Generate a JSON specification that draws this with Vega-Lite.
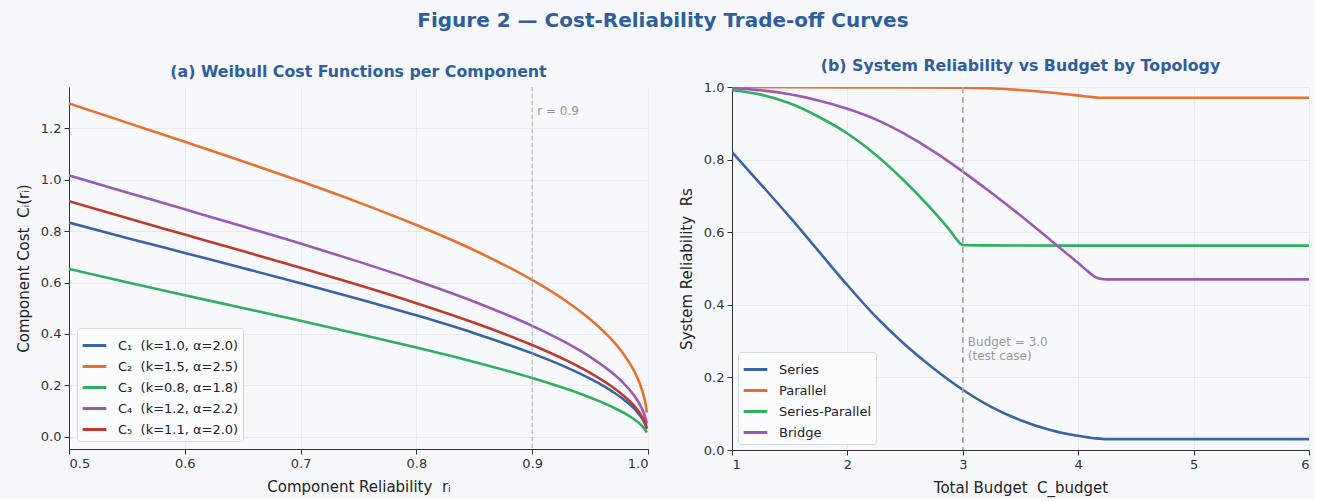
{
  "$schema": "https://vega.github.io/schema/vega-lite/v6.json",
  "background": "#f6f7fb",
  "padding": {"left": 16, "top": 11, "right": 4, "bottom": 4},
  "title": {"text": "Figure 2 — Cost-Reliability Trade-off Curves", "fontSize": 20, "fontWeight": "bold", "color": "#2e5e9e", "font": "DejaVu Sans", "anchor": "middle", "offset": 27},
  "config": {
    "font": "DejaVu Sans",
    "view": {"stroke": null, "fill": "#f7f8fc"},
    "axis": {"labelFontSize": 13, "labelColor": "#333", "titleFontSize": 15, "titleFontWeight": "normal", "titleColor": "#222", "titlePadding": 9, "gridColor": "#e4e6eb", "gridWidth": 0.8, "domainColor": "#333", "tickColor": "#333", "tickSize": 5, "labelPadding": 3},
    "title": {"fontSize": 15.8, "fontWeight": "bold", "color": "#2e5e9e", "offset": 6},
    "legend": {"symbolType": "stroke", "symbolStrokeWidth": 3, "symbolSize": 560, "labelFontSize": 13, "labelColor": "#222", "fillColor": "#fbfcfe", "strokeColor": "#d5d8dd", "padding": 4, "cornerRadius": 3, "rowPadding": 0, "labelOffset": 10, "title": null}
  },
  "datasets": {
    "cost": [
      {"r": 0.5, "cost": 0.8326, "comp": "C₁ \u00a0(k=1.0, α=2.0)"},
      {"r": 0.55, "cost": 0.7732, "comp": "C₁ \u00a0(k=1.0, α=2.0)"},
      {"r": 0.6, "cost": 0.7147, "comp": "C₁ \u00a0(k=1.0, α=2.0)"},
      {"r": 0.65, "cost": 0.6563, "comp": "C₁ \u00a0(k=1.0, α=2.0)"},
      {"r": 0.7, "cost": 0.5972, "comp": "C₁ \u00a0(k=1.0, α=2.0)"},
      {"r": 0.75, "cost": 0.5364, "comp": "C₁ \u00a0(k=1.0, α=2.0)"},
      {"r": 0.8, "cost": 0.4724, "comp": "C₁ \u00a0(k=1.0, α=2.0)"},
      {"r": 0.85, "cost": 0.4031, "comp": "C₁ \u00a0(k=1.0, α=2.0)"},
      {"r": 0.9, "cost": 0.3246, "comp": "C₁ \u00a0(k=1.0, α=2.0)"},
      {"r": 0.93, "cost": 0.2694, "comp": "C₁ \u00a0(k=1.0, α=2.0)"},
      {"r": 0.95, "cost": 0.2265, "comp": "C₁ \u00a0(k=1.0, α=2.0)"},
      {"r": 0.97, "cost": 0.1745, "comp": "C₁ \u00a0(k=1.0, α=2.0)"},
      {"r": 0.98, "cost": 0.1421, "comp": "C₁ \u00a0(k=1.0, α=2.0)"},
      {"r": 0.99, "cost": 0.1003, "comp": "C₁ \u00a0(k=1.0, α=2.0)"},
      {"r": 0.995, "cost": 0.0708, "comp": "C₁ \u00a0(k=1.0, α=2.0)"},
      {"r": 0.998, "cost": 0.0447, "comp": "C₁ \u00a0(k=1.0, α=2.0)"},
      {"r": 0.999, "cost": 0.0316, "comp": "C₁ \u00a0(k=1.0, α=2.0)"},
      {"r": 0.5, "cost": 1.2955, "comp": "C₂ \u00a0(k=1.5, α=2.5)"},
      {"r": 0.55, "cost": 1.221, "comp": "C₂ \u00a0(k=1.5, α=2.5)"},
      {"r": 0.6, "cost": 1.1466, "comp": "C₂ \u00a0(k=1.5, α=2.5)"},
      {"r": 0.65, "cost": 1.071, "comp": "C₂ \u00a0(k=1.5, α=2.5)"},
      {"r": 0.7, "cost": 0.9931, "comp": "C₂ \u00a0(k=1.5, α=2.5)"},
      {"r": 0.75, "cost": 0.9113, "comp": "C₂ \u00a0(k=1.5, α=2.5)"},
      {"r": 0.8, "cost": 0.8232, "comp": "C₂ \u00a0(k=1.5, α=2.5)"},
      {"r": 0.85, "cost": 0.7252, "comp": "C₂ \u00a0(k=1.5, α=2.5)"},
      {"r": 0.9, "cost": 0.6098, "comp": "C₂ \u00a0(k=1.5, α=2.5)"},
      {"r": 0.93, "cost": 0.5253, "comp": "C₂ \u00a0(k=1.5, α=2.5)"},
      {"r": 0.95, "cost": 0.4572, "comp": "C₂ \u00a0(k=1.5, α=2.5)"},
      {"r": 0.97, "cost": 0.3712, "comp": "C₂ \u00a0(k=1.5, α=2.5)"},
      {"r": 0.98, "cost": 0.3149, "comp": "C₂ \u00a0(k=1.5, α=2.5)"},
      {"r": 0.99, "cost": 0.2382, "comp": "C₂ \u00a0(k=1.5, α=2.5)"},
      {"r": 0.995, "cost": 0.1804, "comp": "C₂ \u00a0(k=1.5, α=2.5)"},
      {"r": 0.998, "cost": 0.1249, "comp": "C₂ \u00a0(k=1.5, α=2.5)"},
      {"r": 0.999, "cost": 0.0947, "comp": "C₂ \u00a0(k=1.5, α=2.5)"},
      {"r": 0.5, "cost": 0.6526, "comp": "C₃ \u00a0(k=0.8, α=1.8)"},
      {"r": 0.55, "cost": 0.6011, "comp": "C₃ \u00a0(k=0.8, α=1.8)"},
      {"r": 0.6, "cost": 0.5508, "comp": "C₃ \u00a0(k=0.8, α=1.8)"},
      {"r": 0.65, "cost": 0.5011, "comp": "C₃ \u00a0(k=0.8, α=1.8)"},
      {"r": 0.7, "cost": 0.4512, "comp": "C₃ \u00a0(k=0.8, α=1.8)"},
      {"r": 0.75, "cost": 0.4004, "comp": "C₃ \u00a0(k=0.8, α=1.8)"},
      {"r": 0.8, "cost": 0.3477, "comp": "C₃ \u00a0(k=0.8, α=1.8)"},
      {"r": 0.85, "cost": 0.2915, "comp": "C₃ \u00a0(k=0.8, α=1.8)"},
      {"r": 0.9, "cost": 0.2292, "comp": "C₃ \u00a0(k=0.8, α=1.8)"},
      {"r": 0.93, "cost": 0.1863, "comp": "C₃ \u00a0(k=0.8, α=1.8)"},
      {"r": 0.95, "cost": 0.1536, "comp": "C₃ \u00a0(k=0.8, α=1.8)"},
      {"r": 0.97, "cost": 0.115, "comp": "C₃ \u00a0(k=0.8, α=1.8)"},
      {"r": 0.98, "cost": 0.0916, "comp": "C₃ \u00a0(k=0.8, α=1.8)"},
      {"r": 0.99, "cost": 0.0621, "comp": "C₃ \u00a0(k=0.8, α=1.8)"},
      {"r": 0.995, "cost": 0.0422, "comp": "C₃ \u00a0(k=0.8, α=1.8)"},
      {"r": 0.998, "cost": 0.0253, "comp": "C₃ \u00a0(k=0.8, α=1.8)"},
      {"r": 0.999, "cost": 0.0172, "comp": "C₃ \u00a0(k=0.8, α=1.8)"},
      {"r": 0.5, "cost": 1.0158, "comp": "C₄ \u00a0(k=1.2, α=2.2)"},
      {"r": 0.55, "cost": 0.9498, "comp": "C₄ \u00a0(k=1.2, α=2.2)"},
      {"r": 0.6, "cost": 0.8842, "comp": "C₄ \u00a0(k=1.2, α=2.2)"},
      {"r": 0.65, "cost": 0.8183, "comp": "C₄ \u00a0(k=1.2, α=2.2)"},
      {"r": 0.7, "cost": 0.7511, "comp": "C₄ \u00a0(k=1.2, α=2.2)"},
      {"r": 0.75, "cost": 0.6811, "comp": "C₄ \u00a0(k=1.2, α=2.2)"},
      {"r": 0.8, "cost": 0.6068, "comp": "C₄ \u00a0(k=1.2, α=2.2)"},
      {"r": 0.85, "cost": 0.5254, "comp": "C₄ \u00a0(k=1.2, α=2.2)"},
      {"r": 0.9, "cost": 0.4315, "comp": "C₄ \u00a0(k=1.2, α=2.2)"},
      {"r": 0.93, "cost": 0.3642, "comp": "C₄ \u00a0(k=1.2, α=2.2)"},
      {"r": 0.95, "cost": 0.3111, "comp": "C₄ \u00a0(k=1.2, α=2.2)"},
      {"r": 0.97, "cost": 0.2454, "comp": "C₄ \u00a0(k=1.2, α=2.2)"},
      {"r": 0.98, "cost": 0.2037, "comp": "C₄ \u00a0(k=1.2, α=2.2)"},
      {"r": 0.99, "cost": 0.1483, "comp": "C₄ \u00a0(k=1.2, α=2.2)"},
      {"r": 0.995, "cost": 0.1081, "comp": "C₄ \u00a0(k=1.2, α=2.2)"},
      {"r": 0.998, "cost": 0.0712, "comp": "C₄ \u00a0(k=1.2, α=2.2)"},
      {"r": 0.999, "cost": 0.052, "comp": "C₄ \u00a0(k=1.2, α=2.2)"},
      {"r": 0.5, "cost": 0.9158, "comp": "C₅ \u00a0(k=1.1, α=2.0)"},
      {"r": 0.55, "cost": 0.8505, "comp": "C₅ \u00a0(k=1.1, α=2.0)"},
      {"r": 0.6, "cost": 0.7862, "comp": "C₅ \u00a0(k=1.1, α=2.0)"},
      {"r": 0.65, "cost": 0.722, "comp": "C₅ \u00a0(k=1.1, α=2.0)"},
      {"r": 0.7, "cost": 0.6569, "comp": "C₅ \u00a0(k=1.1, α=2.0)"},
      {"r": 0.75, "cost": 0.59, "comp": "C₅ \u00a0(k=1.1, α=2.0)"},
      {"r": 0.8, "cost": 0.5196, "comp": "C₅ \u00a0(k=1.1, α=2.0)"},
      {"r": 0.85, "cost": 0.4435, "comp": "C₅ \u00a0(k=1.1, α=2.0)"},
      {"r": 0.9, "cost": 0.357, "comp": "C₅ \u00a0(k=1.1, α=2.0)"},
      {"r": 0.93, "cost": 0.2963, "comp": "C₅ \u00a0(k=1.1, α=2.0)"},
      {"r": 0.95, "cost": 0.2491, "comp": "C₅ \u00a0(k=1.1, α=2.0)"},
      {"r": 0.97, "cost": 0.192, "comp": "C₅ \u00a0(k=1.1, α=2.0)"},
      {"r": 0.98, "cost": 0.1563, "comp": "C₅ \u00a0(k=1.1, α=2.0)"},
      {"r": 0.99, "cost": 0.1103, "comp": "C₅ \u00a0(k=1.1, α=2.0)"},
      {"r": 0.995, "cost": 0.0779, "comp": "C₅ \u00a0(k=1.1, α=2.0)"},
      {"r": 0.998, "cost": 0.0492, "comp": "C₅ \u00a0(k=1.1, α=2.0)"},
      {"r": 0.999, "cost": 0.0348, "comp": "C₅ \u00a0(k=1.1, α=2.0)"}
    ],
    "sys": [
      {"budget": 1, "rel": 0.821, "topo": "Series"},
      {"budget": 1.25, "rel": 0.732, "topo": "Series"},
      {"budget": 1.5, "rel": 0.642, "topo": "Series"},
      {"budget": 1.75, "rel": 0.548, "topo": "Series"},
      {"budget": 2, "rel": 0.454, "topo": "Series"},
      {"budget": 2.25, "rel": 0.366, "topo": "Series"},
      {"budget": 2.5, "rel": 0.29, "topo": "Series"},
      {"budget": 2.75, "rel": 0.224, "topo": "Series"},
      {"budget": 3, "rel": 0.166, "topo": "Series"},
      {"budget": 3.25, "rel": 0.118, "topo": "Series"},
      {"budget": 3.5, "rel": 0.082, "topo": "Series"},
      {"budget": 3.75, "rel": 0.056, "topo": "Series"},
      {"budget": 4, "rel": 0.039, "topo": "Series"},
      {"budget": 4.15, "rel": 0.032, "topo": "Series"},
      {"budget": 4.25, "rel": 0.03, "topo": "Series"},
      {"budget": 5, "rel": 0.03, "topo": "Series"},
      {"budget": 6, "rel": 0.03, "topo": "Series"},
      {"budget": 1, "rel": 0.9995, "topo": "Parallel"},
      {"budget": 2, "rel": 0.999, "topo": "Parallel"},
      {"budget": 2.5, "rel": 0.999, "topo": "Parallel"},
      {"budget": 3, "rel": 0.998, "topo": "Parallel"},
      {"budget": 3.27, "rel": 0.996, "topo": "Parallel"},
      {"budget": 3.53, "rel": 0.991, "topo": "Parallel"},
      {"budget": 3.75, "rel": 0.985, "topo": "Parallel"},
      {"budget": 3.99, "rel": 0.977, "topo": "Parallel"},
      {"budget": 4.1, "rel": 0.973, "topo": "Parallel"},
      {"budget": 4.19, "rel": 0.9705, "topo": "Parallel"},
      {"budget": 5, "rel": 0.9705, "topo": "Parallel"},
      {"budget": 6, "rel": 0.9705, "topo": "Parallel"},
      {"budget": 1, "rel": 0.991, "topo": "Series-Parallel"},
      {"budget": 1.25, "rel": 0.979, "topo": "Series-Parallel"},
      {"budget": 1.5, "rel": 0.955, "topo": "Series-Parallel"},
      {"budget": 1.75, "rel": 0.918, "topo": "Series-Parallel"},
      {"budget": 2, "rel": 0.872, "topo": "Series-Parallel"},
      {"budget": 2.25, "rel": 0.812, "topo": "Series-Parallel"},
      {"budget": 2.5, "rel": 0.739, "topo": "Series-Parallel"},
      {"budget": 2.75, "rel": 0.656, "topo": "Series-Parallel"},
      {"budget": 2.9, "rel": 0.6, "topo": "Series-Parallel"},
      {"budget": 2.95, "rel": 0.579, "topo": "Series-Parallel"},
      {"budget": 2.98, "rel": 0.568, "topo": "Series-Parallel"},
      {"budget": 3.02, "rel": 0.564, "topo": "Series-Parallel"},
      {"budget": 4, "rel": 0.563, "topo": "Series-Parallel"},
      {"budget": 6, "rel": 0.563, "topo": "Series-Parallel"},
      {"budget": 1, "rel": 0.997, "topo": "Bridge"},
      {"budget": 1.25, "rel": 0.991, "topo": "Bridge"},
      {"budget": 1.5, "rel": 0.98, "topo": "Bridge"},
      {"budget": 1.75, "rel": 0.963, "topo": "Bridge"},
      {"budget": 2, "rel": 0.94, "topo": "Bridge"},
      {"budget": 2.25, "rel": 0.91, "topo": "Bridge"},
      {"budget": 2.5, "rel": 0.87, "topo": "Bridge"},
      {"budget": 2.75, "rel": 0.822, "topo": "Bridge"},
      {"budget": 3, "rel": 0.767, "topo": "Bridge"},
      {"budget": 3.25, "rel": 0.708, "topo": "Bridge"},
      {"budget": 3.5, "rel": 0.646, "topo": "Bridge"},
      {"budget": 3.75, "rel": 0.581, "topo": "Bridge"},
      {"budget": 4, "rel": 0.515, "topo": "Bridge"},
      {"budget": 4.1, "rel": 0.488, "topo": "Bridge"},
      {"budget": 4.15, "rel": 0.476, "topo": "Bridge"},
      {"budget": 4.2, "rel": 0.471, "topo": "Bridge"},
      {"budget": 4.25, "rel": 0.47, "topo": "Bridge"},
      {"budget": 5, "rel": 0.47, "topo": "Bridge"},
      {"budget": 6, "rel": 0.47, "topo": "Bridge"}
    ],
    "annA": [{"r": 0.9, "y": 1.265, "label": "r = 0.9"}],
    "annB": [{"budget": 3, "y": 0.297, "label": "Budget = 3.0\n(test case)"}]
  },
  "resolve": {"scale": {"color": "independent"}, "legend": {"color": "independent"}},
  "spacing": 30,
  "hconcat": [
    {
      "width": 579,
      "height": 362,
      "title": "(a) Weibull Cost Functions per Component",
      "layer": [
        {
          "data": {"name": "cost"},
          "mark": {"type": "line", "strokeWidth": 2.6, "interpolate": "monotone", "clip": true},
          "encoding": {
            "x": {"field": "r", "type": "quantitative", "scale": {"domain": [0.5, 1.0], "nice": false, "zero": false}, "axis": {"title": "Component Reliability \u00a0rᵢ", "values": [0.5, 0.6, 0.7, 0.8, 0.9, 1.0], "format": ".1f"}},
            "y": {"field": "cost", "type": "quantitative", "scale": {"domain": [-0.0467, 1.3594], "nice": false, "zero": false}, "axis": {"title": "Component Cost \u00a0Cᵢ(rᵢ)", "values": [0, 0.2, 0.4, 0.6, 0.8, 1.0, 1.2], "format": ".1f"}},
            "color": {"field": "comp", "type": "nominal", "scale": {"range": ["#3864a5", "#e8702f", "#2eb05f", "#9b59b6", "#c0392b"]}, "legend": {"orient": "bottom-left", "offset": 8}}
          }
        },
        {
          "data": {"name": "annA"},
          "mark": {"type": "rule", "color": "#aaaaaa", "strokeWidth": 1, "strokeDash": [4, 3]},
          "encoding": {"x": {"field": "r", "type": "quantitative"}}
        },
        {
          "data": {"name": "annA"},
          "mark": {"type": "text", "align": "left", "dx": 5, "fontSize": 12, "color": "#999999"},
          "encoding": {"x": {"field": "r", "type": "quantitative"}, "y": {"field": "y", "type": "quantitative"}, "text": {"field": "label"}}
        }
      ]
    },
    {
      "width": 577,
      "height": 363,
      "title": "(b) System Reliability vs Budget by Topology",
      "layer": [
        {
          "data": {"name": "sys"},
          "mark": {"type": "line", "strokeWidth": 2.6, "interpolate": "monotone", "clip": true},
          "encoding": {
            "x": {"field": "budget", "type": "quantitative", "scale": {"domain": [1, 6], "nice": false, "zero": false}, "axis": {"title": "Total Budget \u00a0C_budget", "values": [1, 2, 3, 4, 5, 6], "format": "d"}},
            "y": {"field": "rel", "type": "quantitative", "scale": {"domain": [0, 1], "nice": false}, "axis": {"title": "System Reliability \u00a0Rs", "values": [0, 0.2, 0.4, 0.6, 0.8, 1.0], "format": ".1f"}},
            "color": {"field": "topo", "type": "nominal", "sort": ["Series", "Parallel", "Series-Parallel", "Bridge"], "scale": {"domain": ["Series", "Parallel", "Series-Parallel", "Bridge"], "range": ["#3864a5", "#e8702f", "#2eb05f", "#9b59b6"]}, "legend": {"orient": "bottom-left", "offset": 6}}
          }
        },
        {
          "data": {"name": "annB"},
          "mark": {"type": "rule", "color": "#aaaaaa", "strokeWidth": 1.6, "strokeDash": [6, 4]},
          "encoding": {"x": {"field": "budget", "type": "quantitative"}}
        },
        {
          "data": {"name": "annB"},
          "mark": {"type": "text", "align": "left", "baseline": "middle", "dx": 5, "fontSize": 12, "color": "#999999", "lineBreak": "\n"},
          "encoding": {"x": {"field": "budget", "type": "quantitative"}, "y": {"field": "y", "type": "quantitative"}, "text": {"field": "label"}}
        }
      ]
    }
  ]
}
